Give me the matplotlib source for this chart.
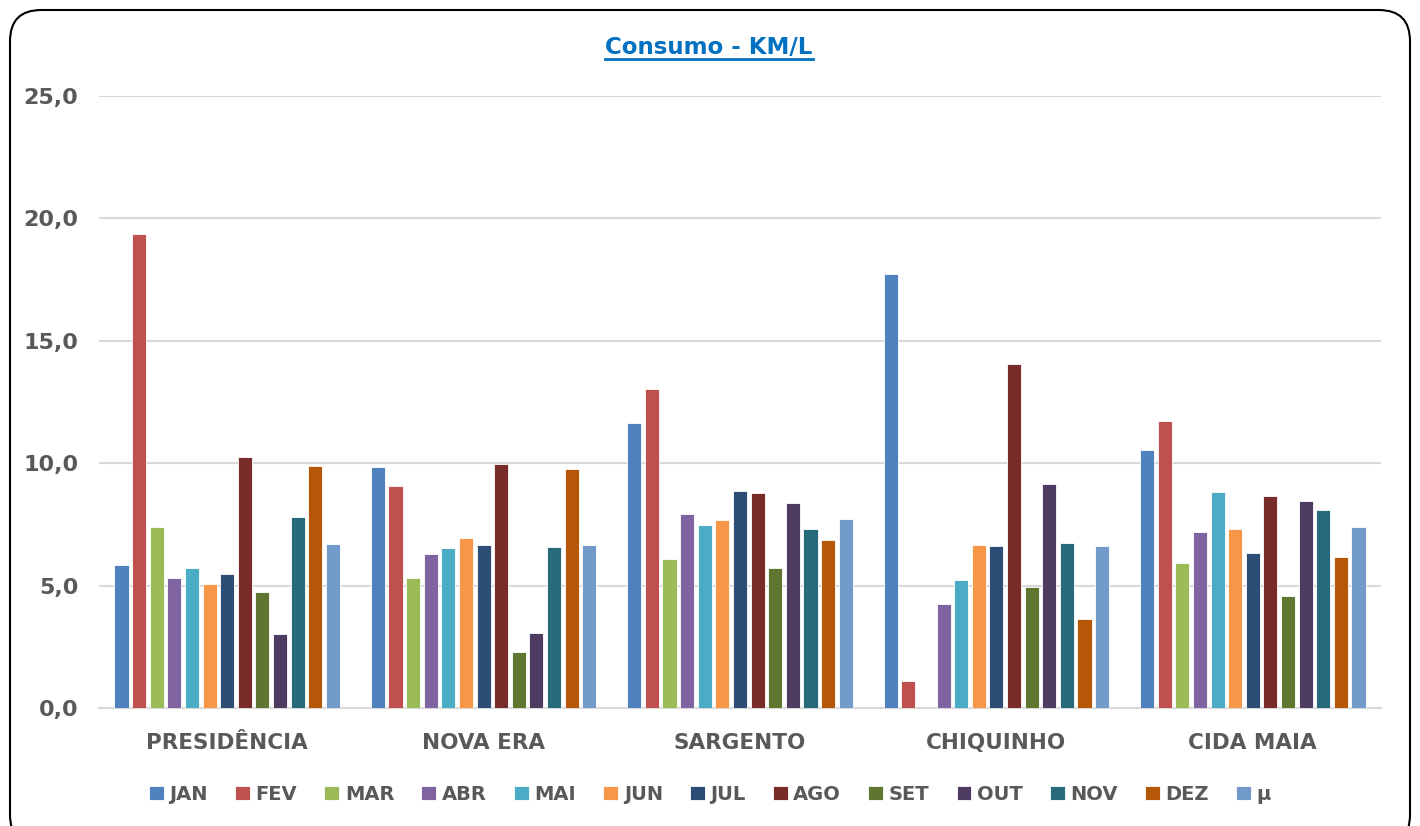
import numpy as np
import matplotlib
matplotlib.use("Agg")
import matplotlib.pyplot as plt
from matplotlib.patches import FancyBboxPatch
from matplotlib.lines import Line2D

# dados
locais = ["PRESIDÊNCIA", "NOVA ERA", "SARGENTO", "CHIQUINHO", "CIDA MAIA"]
meses = ["JAN", "FEV", "MAR", "ABR", "MAI", "JUN", "JUL", "AGO", "SET", "OUT", "NOV", "DEZ", "μ"]

presidencia = [5.84, 19.36, 7.39, 5.31, 5.72, 5.07, 5.47, 10.25, 4.74, 3.02, 7.80, 9.89, 6.70]
nova_era = [9.84, 9.07, 5.31, 6.29, 6.54, 6.94, 6.66, 9.97, 2.29, 3.06, 6.58, 9.76, 6.66]
sargento = [11.64, 13.03, 6.09, 7.92, 7.48, 7.68, 8.86, 8.78, 5.72, 8.37, 7.31, 6.86, 7.72]
chiquinho = [17.73, 1.10, 0.0, 4.25, 5.23, 6.66, 6.62, 14.05, 4.94, 9.15, 6.74, 3.64, 6.62]
cida_maia = [10.54, 11.72, 5.92, 7.19, 8.82, 7.31, 6.33, 8.66, 4.58, 8.46, 8.09, 6.17, 7.39]

y_ticks = [0, 5, 10, 15, 20, 25]

cores = ["#4F81BD", "#C0504D", "#9BBB59", "#8064A2", "#4BACC6", "#F79646",
         "#2C4D75", "#772C2A", "#5F7530", "#4D3B62", "#276A7C", "#B65708", "#729ACA"]

valores = np.array([presidencia, nova_era, sargento, chiquinho, cida_maia])

plt.rcParams["font.family"] = ["DejaVu Sans"]
plt.rcParams["font.weight"] = "bold"

W, H = 1420, 826
fig = plt.figure(figsize=(W / 100, H / 100), dpi=100)
ax = fig.add_axes([99 / W, 1 - 708 / H, 1282 / W, 612 / H])

# borda arredondada
borda = FancyBboxPatch((10 / W, -20 / H), 1400 / W, 836 / H,
                       boxstyle="round,pad=0,rounding_size=0.022",
                       transform=fig.transFigure, fill=False,
                       edgecolor="black", linewidth=1.5, zorder=0,
                       mutation_aspect=W / H)
fig.patches.append(borda)

x = np.arange(len(locais))
n = len(meses)
passo = 0.0687
largura = 0.055

for i, mes in enumerate(meses):
    pos = x - (n - 1) / 2 * passo + i * passo
    ax.bar(pos, valores[:, i], width=largura, color=cores[i],
           edgecolor="white", linewidth=0.6, label=mes, zorder=3)

ax.set_xlim(-0.5, len(locais) - 0.5)
ax.set_ylim(0, 25)
ax.set_yticks(y_ticks)
ax.set_yticklabels([f"{v:.1f}".replace(".", ",") for v in y_ticks])
ax.set_xticks(x)
ax.set_xticklabels(locais)

ax.grid(axis="y", color="#D9D9D9", linewidth=1.5, zorder=0)
for s in ["top", "right", "left"]:
    ax.spines[s].set_visible(False)
ax.spines["bottom"].set_color("#D9D9D9")
ax.spines["bottom"].set_linewidth(1.5)
ax.tick_params(axis="both", length=0, colors="#595959")
ax.tick_params(axis="y", labelsize=16, pad=15)
ax.tick_params(axis="x", labelsize=15.5, pad=18)
for t in ax.get_xticklabels() + ax.get_yticklabels():
    t.set_fontweight("bold")

# título sublinhado
titulo = fig.text(709 / W, 1 - 47 / H, "Consumo - KM/L", ha="center", va="center",
                  fontsize=16.5, fontweight="bold", color="#0070C0")
fig.canvas.draw()
bb = titulo.get_window_extent().transformed(fig.transFigure.inverted())
y_linha = bb.y0 - 1 / H
fig.add_artist(Line2D([bb.x0, bb.x1], [y_linha, y_linha], transform=fig.transFigure,
                      color="#0070C0", linewidth=2))

leg = fig.legend(loc="center", bbox_to_anchor=(710 / W, 1 - 794 / H), ncol=n,
                 frameon=False, fontsize=14, handlelength=0.75, handleheight=0.75,
                 handletextpad=0.3, columnspacing=1.4)
for t in leg.get_texts():
    t.set_color("#595959")
    t.set_fontweight("bold")

fig.savefig("out.png", dpi=100)
